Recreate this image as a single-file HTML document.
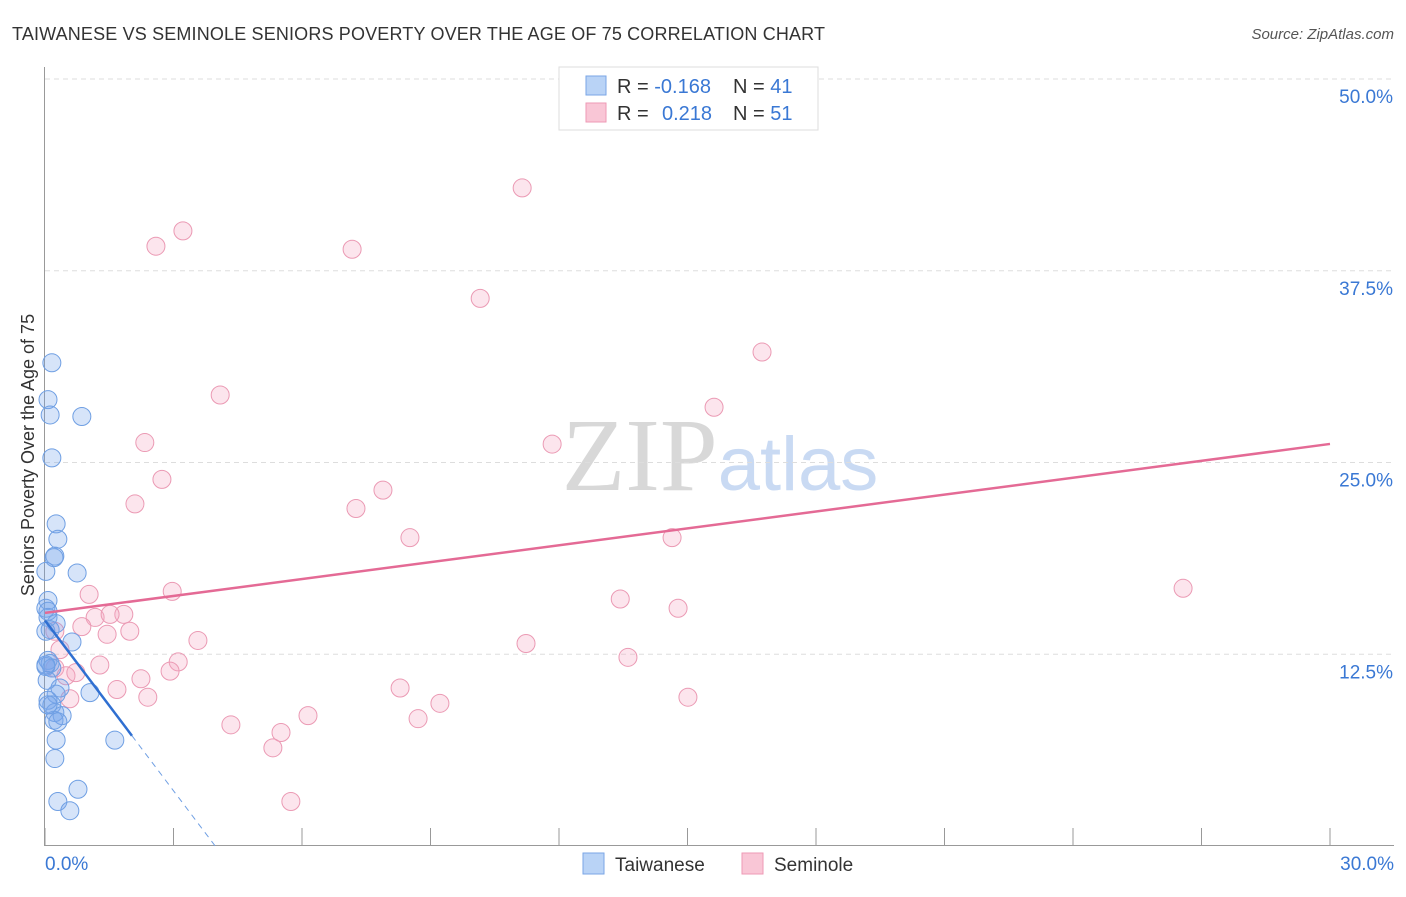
<!DOCTYPE html>
<html><head><meta charset="utf-8"><style>
body{margin:0;background:#fff;font-family:"Liberation Sans",sans-serif}
svg text{font-family:"Liberation Sans",sans-serif}
</style></head><body>
<svg id="chart" width="1406" height="892" viewBox="0 0 1406 892" xmlns="http://www.w3.org/2000/svg">
<text x="12" y="40" font-size="18" fill="#333" textLength="813">TAIWANESE VS SEMINOLE SENIORS POVERTY OVER THE AGE OF 75 CORRELATION CHART</text>
<text x="1394" y="39" font-size="15" fill="#555" text-anchor="end" font-style="italic">Source: ZipAtlas.com</text>
<text x="720" y="490" font-size="104" text-anchor="middle"><tspan fill="#d8d8d8" font-family="Liberation Serif">ZIP</tspan><tspan fill="#c9daf3" font-size="76">atlas</tspan></text>
<g id="grid"></g>
<g id="axes"></g>
<g id="marks"></g>
<text transform="translate(34,455) rotate(-90)" font-size="18" fill="#333" text-anchor="middle">Seniors Poverty Over the Age of 75</text>
<g>
<rect x="559" y="67" width="259" height="63" fill="#fff" stroke="#ddd"/>
<rect x="586" y="76" width="20" height="19" fill="#b9d3f6" stroke="#7aa6e6"/>
<rect x="586" y="103" width="20" height="19" fill="#f9c6d6" stroke="#ee9ab5"/>
<text x="617" y="93" font-size="20" fill="#333">R = <tspan fill="#3a78d4">-0.168</tspan></text>
<text x="733" y="93" font-size="20" fill="#333">N = <tspan fill="#3a78d4">41</tspan></text>
<text x="617" y="120" font-size="20" fill="#333">R = <tspan fill="#3a78d4" x="662">0.218</tspan></text>
<text x="733" y="120" font-size="20" fill="#333">N = <tspan fill="#3a78d4">51</tspan></text>
</g>
<g>
<rect x="583" y="853" width="21" height="21" fill="#b9d3f6" stroke="#7aa6e6"/>
<text x="615" y="871" font-size="19" fill="#333">Taiwanese</text>
<rect x="742" y="853" width="21" height="21" fill="#f9c6d6" stroke="#ee9ab5"/>
<text x="774" y="871" font-size="19" fill="#333">Seminole</text>
</g>
</svg>
<script>
const xTicks=[0,3,6,9,12,15,18,21,24,27,30];
const yTicks=[12.5,25,37.5,50];
const yTickLabels=["12.5%","25.0%","37.5%","50.0%"];
const blueX=[0.16,0.07,0.12,0.86,0.16,0.26,0.30,0.23,0.21,0.02,0.75,0.07,0.02,0.07,0.07,0.26,0.63,0.02,0.07,0.12,0.02,0.16,0.35,0.26,1.05,0.07,0.16,0.23,0.40,0.21,0.30,0.26,1.63,0.23,0.77,0.30,0.58,0.02,0.07,0.12,0.05];
const blueY=[31.5,29.1,28.1,28.0,25.3,21.0,20.0,18.9,18.8,17.9,17.8,16.0,15.5,15.3,14.9,14.5,13.3,14.0,12.1,11.9,11.7,11.6,10.3,9.9,10.0,9.5,9.2,8.7,8.5,8.2,8.1,6.9,6.9,5.7,3.7,2.9,2.3,11.8,9.2,14.1,10.8];
const pinkX=[11.14,3.22,2.59,7.17,10.16,16.74,4.09,15.62,2.33,11.84,2.73,7.89,2.10,7.26,8.52,14.64,26.57,1.03,2.97,13.43,14.78,1.17,1.84,1.52,0.86,1.98,1.45,0.23,3.57,11.23,13.61,3.11,1.28,2.92,0.23,0.49,0.72,2.24,8.29,1.68,2.40,15.01,0.58,9.22,6.14,4.34,8.71,5.51,5.32,5.74,0.35];
const pinkY=[42.9,40.1,39.1,38.9,35.7,32.2,29.4,28.6,26.3,26.2,23.9,23.2,22.3,22.0,20.1,20.1,16.8,16.4,16.6,16.1,15.5,14.9,15.1,15.1,14.3,14.0,13.8,14.0,13.4,13.2,12.3,12.0,11.8,11.4,11.6,11.1,11.3,10.9,10.3,10.2,9.7,9.7,9.6,9.3,8.5,7.9,8.3,7.4,6.4,2.9,12.8];
const blueTrend=[14.7,-3.7];
const pinkTrend=[15.2,0.367];
const X0=45,X1=1330,Y0=846,Y50=79;
const sx=v=>X0+(X1-X0)*v/30;
const sy=v=>Y0-(Y0-Y50)*v/50;
const NS="http://www.w3.org/2000/svg";
function mk(tag,attrs,parent){const e=document.createElementNS(NS,tag);for(const k in attrs)e.setAttribute(k,attrs[k]);parent.appendChild(e);return e;}
const grid=document.getElementById('grid'),axes=document.getElementById('axes'),marks=document.getElementById('marks');
yTicks.forEach((t,i)=>{
 const g=mk('line',{x1:45,x2:1394,y1:sy(t),y2:sy(t),stroke:'#ddd','stroke-dasharray':'5,4'},grid);
 
 
 const l=mk('text',{x:1393,y:sy(t)+24,'font-size':19,fill:'#3a78d4','text-anchor':'end'},axes);
 l.textContent=yTickLabels[i];
 
 
});
const ya=mk('line',{x1:44.5,x2:44.5,y1:67,y2:846,stroke:'#999'},axes);


const xa=mk('line',{x1:45,x2:1394,y1:845.5,y2:845.5,stroke:'#999'},axes);


xTicks.forEach(t=>{
 const tk=mk('line',{x1:sx(t),x2:sx(t),y1:828,y2:846,stroke:'#999'},axes);
 
 
});
const xl0=mk('text',{x:45,y:870,'font-size':19,fill:'#3a78d4'},axes);xl0.textContent='0.0%';


const xl1=mk('text',{x:1394,y:870,'font-size':19,fill:'#3a78d4','text-anchor':'end'},axes);xl1.textContent='30.0%';


pinkX.forEach((x,i)=>{
 const c=mk('circle',{cx:sx(x),cy:sy(pinkY[i]),r:9,fill:'rgba(244,170,196,0.3)',stroke:'#eb9ab4','stroke-width':1},marks);
 
 
});
blueX.forEach((x,i)=>{
 const c=mk('circle',{cx:sx(x),cy:sy(blueY[i]),r:9,fill:'rgba(120,165,235,0.3)',stroke:'#6f9fe3','stroke-width':1},marks);
 
 
});
const pt=mk('line',{x1:sx(0),y1:sy(pinkTrend[0]),x2:sx(30),y2:sy(pinkTrend[0]+pinkTrend[1]*30),stroke:'#e46a95','stroke-width':2.5},marks);


const bEnd=2.03,bZero=-blueTrend[0]/blueTrend[1];
const bt=mk('line',{x1:sx(0),y1:sy(blueTrend[0]),x2:sx(bEnd),y2:sy(blueTrend[0]+blueTrend[1]*bEnd),stroke:'#2f6fd1','stroke-width':2.5},marks);


const bd=mk('line',{x1:sx(bEnd),y1:sy(blueTrend[0]+blueTrend[1]*bEnd),x2:sx(bZero),y2:sy(0),stroke:'#6f9fe3','stroke-width':1,'stroke-dasharray':'6,5'},marks);


</script>
</body></html>
